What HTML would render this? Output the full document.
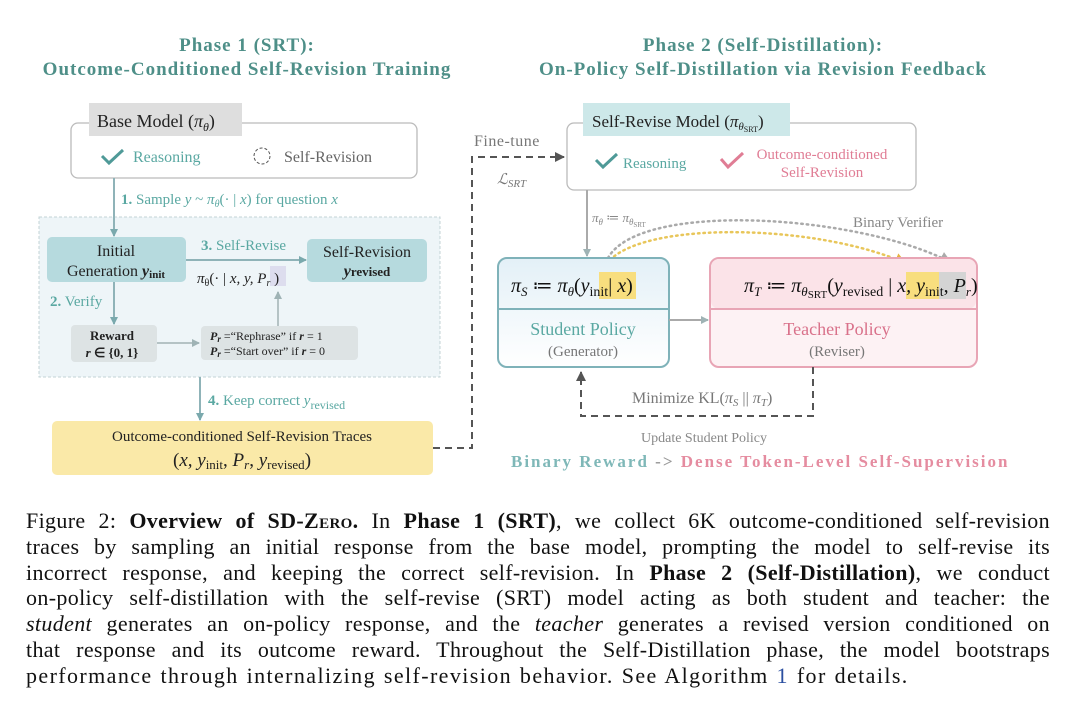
<!DOCTYPE html>
<html><head><meta charset="utf-8"><style>
html,body{margin:0;padding:0;background:#fff;width:1080px;height:719px;overflow:hidden}
svg{position:absolute;left:0;top:0}
svg text{font-family:"Liberation Serif",serif}
.cap{position:absolute;left:26px;top:508px;width:1024px;font-family:"Liberation Serif",serif;font-size:22px;line-height:25.8px;color:#111;letter-spacing:0.35px}
.cap div{text-align:justify;text-align-last:justify;white-space:nowrap}
.cap div.l{text-align-last:left;letter-spacing:1.4px;word-spacing:1px}
.sc{font-variant:small-caps}
</style></head><body>
<svg width="1080" height="719" viewBox="0 0 1080 719">
<defs>
<marker id="ag" markerWidth="8" markerHeight="8" refX="7" refY="4" orient="auto" markerUnits="userSpaceOnUse"><path d="M0,0 L8,4 L0,8z" fill="#9fb3b5"/></marker>
<marker id="at" markerWidth="8" markerHeight="8" refX="7" refY="4" orient="auto" markerUnits="userSpaceOnUse"><path d="M0,0 L8,4 L0,8z" fill="#7aa9ad"/></marker>
<marker id="ad" markerWidth="10" markerHeight="10" refX="9" refY="5" orient="auto" markerUnits="userSpaceOnUse"><path d="M0,0 L10,5 L0,10z" fill="#555"/></marker>
<marker id="ay" markerWidth="12" markerHeight="12" refX="10" refY="6" orient="auto" markerUnits="userSpaceOnUse"><path d="M0,0 L12,6 L0,12z" fill="#e8b33f"/></marker>
<marker id="agr" markerWidth="12" markerHeight="12" refX="10" refY="6" orient="auto" markerUnits="userSpaceOnUse"><path d="M0,0 L12,6 L0,12z" fill="#aaa"/></marker>
<linearGradient id="sg" x1="0" y1="0" x2="0" y2="1"><stop offset="0" stop-color="#e3f0f7"/><stop offset="1" stop-color="#fff"/></linearGradient>
</defs>
<g fill="#4e8f88" font-weight="bold" font-size="19" letter-spacing="1" text-anchor="middle">
<text x="247" y="51">Phase 1 (SRT):</text>
<text x="247" y="75">Outcome-Conditioned Self-Revision Training</text>
<text x="763" y="51">Phase 2 (Self-Distillation):</text>
<text x="763" y="75">On-Policy Self-Distillation via Revision Feedback</text>
</g>
<rect x="39" y="217" width="401" height="160" fill="#eef5f8" stroke="#c3d3d6" stroke-dasharray="3,2"/>
<rect x="71" y="123" width="346" height="55" rx="7" fill="#fff" stroke="#bbb" stroke-width="1.3"/>
<rect x="89" y="103" width="153" height="33" fill="#dedede"/>
<text x="97" y="127" font-size="18" fill="#222">Base Model (<tspan font-style="italic">π</tspan><tspan font-size="12" font-style="italic" dy="4">θ</tspan><tspan dy="-4">)</tspan></text>
<path d="M102,156 l7,7 l14,-13" fill="none" stroke="#4f9a98" stroke-width="3"/>
<text x="133" y="162" font-size="16" fill="#5aa8a2">Reasoning</text>
<circle cx="262" cy="156" r="8" fill="none" stroke="#555" stroke-dasharray="3,2"/>
<text x="284" y="162" font-size="16" fill="#666">Self-Revision</text>
<line x1="114" y1="178" x2="114" y2="236" stroke="#8fb3b8" stroke-width="2" marker-end="url(#at)"/>
<text x="121" y="204" font-size="15" fill="#5aa8a2"><tspan font-weight="bold">1.</tspan> Sample <tspan font-style="italic">y</tspan> ~ <tspan font-style="italic">π<tspan font-size="10" dy="3">θ</tspan></tspan><tspan dy="-3">(· | </tspan><tspan font-style="italic">x</tspan>) for question <tspan font-style="italic">x</tspan></text>
<rect x="47" y="237" width="139" height="45" rx="5" fill="#b6dade"/>
<text x="116" y="256" font-size="16" text-anchor="middle" fill="#222">Initial</text>
<text x="116" y="276" font-size="16" text-anchor="middle" fill="#222">Generation <tspan font-weight="bold" font-style="italic">y</tspan><tspan font-weight="bold" font-size="11" dy="2">init</tspan></text>
<rect x="307" y="239" width="120" height="43" rx="5" fill="#b6dade"/>
<text x="367" y="257" font-size="16" text-anchor="middle" fill="#222">Self-Revision</text>
<text x="367" y="276" font-size="13" text-anchor="middle" font-weight="bold" fill="#222"><tspan font-style="italic" font-size="16">y</tspan>revised</text>
<line x1="186" y1="260" x2="306" y2="260" stroke="#8fb3b8" stroke-width="2" marker-end="url(#at)"/>
<text x="201" y="250" font-size="15" fill="#5aa8a2"><tspan font-weight="bold">3.</tspan> Self-Revise</text>
<rect x="270" y="266" width="16" height="20" fill="#dde"/>
<text x="197" y="283" font-size="15" fill="#222"><tspan font-style="italic">π</tspan><tspan font-size="10" dy="3">θ</tspan><tspan dy="-3">(· | </tspan><tspan font-style="italic">x, y, P</tspan><tspan font-size="10" font-style="italic" dy="3">r</tspan><tspan dy="-3"> )</tspan></text>
<line x1="114" y1="282" x2="114" y2="324" stroke="#8fb3b8" stroke-width="2" marker-end="url(#at)"/>
<text x="50" y="306" font-size="15" fill="#5aa8a2"><tspan font-weight="bold">2.</tspan> Verify</text>
<rect x="71" y="325" width="86" height="37" rx="4" fill="#dde3e4"/>
<text x="112" y="340" font-size="13" text-anchor="middle" font-weight="bold" fill="#222">Reward</text>
<text x="112" y="357" font-size="13" text-anchor="middle" font-weight="bold" fill="#222"><tspan font-style="italic">r</tspan> ∈ {0, 1}</text>
<line x1="157" y1="343" x2="199" y2="343" stroke="#b5c3c5" stroke-width="2" marker-end="url(#ag)"/>
<rect x="201" y="326" width="157" height="34" rx="4" fill="#dde3e4"/>
<text x="210" y="340" font-size="12" fill="#222"><tspan font-weight="bold" font-style="italic">P<tspan font-size="9" dy="2">r</tspan></tspan><tspan dy="-2"> =“Rephrase” if </tspan><tspan font-weight="bold" font-style="italic">r</tspan> = 1</text>
<text x="210" y="355" font-size="12" fill="#222"><tspan font-weight="bold" font-style="italic">P<tspan font-size="9" dy="2">r</tspan></tspan><tspan dy="-2"> =“Start over” if </tspan><tspan font-weight="bold" font-style="italic">r</tspan> = 0</text>
<line x1="278" y1="326" x2="278" y2="292" stroke="#b5c3c5" stroke-width="2" marker-end="url(#ag)"/>
<line x1="200" y1="377" x2="200" y2="420" stroke="#8fb3b8" stroke-width="2" marker-end="url(#at)"/>
<text x="208" y="405" font-size="15" fill="#5aa8a2"><tspan font-weight="bold">4.</tspan> Keep correct <tspan font-style="italic">y</tspan><tspan font-size="12" dy="4">revised</tspan></text>
<rect x="52" y="421" width="381" height="54" rx="5" fill="#fae9a8"/>
<text x="242" y="441" font-size="15" text-anchor="middle" fill="#222">Outcome-conditioned Self-Revision Traces</text>
<text x="242" y="466" font-size="19" text-anchor="middle" fill="#222">(<tspan font-style="italic">x, y</tspan><tspan font-size="13" dy="3">init</tspan><tspan dy="-3">, </tspan><tspan font-style="italic">P</tspan><tspan font-size="13" font-style="italic" dy="3">r</tspan><tspan dy="-3">, </tspan><tspan font-style="italic">y</tspan><tspan font-size="13" dy="3">revised</tspan><tspan dy="-3">)</tspan></text>
<path d="M433,448 H472 V157 H564" fill="none" stroke="#555" stroke-width="2" stroke-dasharray="7,5" marker-end="url(#ad)"/>
<text x="474" y="146" font-size="16" fill="#777" letter-spacing="0.5">Fine-tune</text>
<text x="497" y="184" font-size="15" fill="#777" font-style="italic">ℒ<tspan font-size="11" dy="3">SRT</tspan></text>
<rect x="567" y="123" width="349" height="67" rx="7" fill="#fff" stroke="#bbb" stroke-width="1.3"/>
<rect x="583" y="103" width="207" height="33" fill="#cde8e9"/>
<text x="592" y="127" font-size="17" fill="#222">Self-Revise Model (<tspan font-style="italic">π</tspan><tspan font-size="11" font-style="italic" dy="3">θ</tspan><tspan font-size="8" dy="2">SRT</tspan><tspan dy="-5">)</tspan></text>
<path d="M596,160 l7,7 l14,-13" fill="none" stroke="#4f9a98" stroke-width="3"/>
<text x="623" y="168" font-size="15" fill="#5aa8a2">Reasoning</text>
<path d="M721,159 l7,8 l15,-14" fill="none" stroke="#e07d95" stroke-width="3"/>
<text x="822" y="159" font-size="15" text-anchor="middle" fill="#e07d95">Outcome-conditioned</text>
<text x="822" y="177" font-size="15" text-anchor="middle" fill="#e07d95">Self-Revision</text>
<line x1="587" y1="190" x2="587" y2="256" stroke="#aaa" stroke-width="2" marker-end="url(#ag)"/>
<text x="592" y="222" font-size="13" fill="#888" font-style="italic">π<tspan font-size="9" dy="3">θ</tspan><tspan dy="-3" font-style="normal"> ≔ </tspan>π<tspan font-size="9" dy="3">θ</tspan><tspan font-size="7" dy="2" font-style="normal">SRT</tspan></text>
<text x="853" y="227" font-size="15" fill="#888">Binary Verifier</text>
<path d="M608,258 C640,200 860,215 950,262" fill="none" stroke="#aaa" stroke-width="2.5" stroke-dasharray="1.5,4" stroke-linecap="round" marker-end="url(#agr)"/>
<path d="M610,260 C650,220 820,225 905,263" fill="none" stroke="#e8c65a" stroke-width="2.5" stroke-dasharray="1.5,4" stroke-linecap="round" marker-end="url(#ay)"/>
<rect x="498" y="258" width="171" height="109" rx="9" fill="url(#sg)" stroke="#7fb2b9" stroke-width="2"/>
<line x1="498" y1="309" x2="669" y2="309" stroke="#7fb2b9" stroke-width="2"/>
<rect x="599" y="272" width="37" height="27" fill="#f8de7e"/>
<text x="511" y="292" font-size="20" fill="#111"><tspan font-style="italic">π</tspan><tspan font-size="13" font-style="italic" dy="4">S</tspan><tspan dy="-4"> ≔ </tspan><tspan font-style="italic">π</tspan><tspan font-size="13" font-style="italic" dy="4">θ</tspan><tspan dy="-4">(</tspan><tspan font-style="italic">y</tspan><tspan font-size="14" dy="4">init</tspan><tspan dy="-4">| </tspan><tspan font-style="italic">x</tspan>)</text>
<text x="583" y="335" font-size="18" text-anchor="middle" fill="#5aa8a2">Student Policy</text>
<text x="583" y="356" font-size="15" text-anchor="middle" fill="#777">(Generator)</text>
<line x1="669" y1="320" x2="708" y2="320" stroke="#aaa" stroke-width="2" marker-end="url(#ag)"/>
<rect x="710" y="258" width="267" height="109" rx="9" fill="#fdf2f4" stroke="#e8a5b5" stroke-width="2"/>
<rect x="711" y="259" width="265" height="50" rx="8" fill="#fbe3e8"/>
<line x1="710" y1="309" x2="977" y2="309" stroke="#e8a5b5" stroke-width="2"/>
<rect x="906" y="272" width="33" height="27" fill="#f8de7e"/>
<rect x="939" y="272" width="27" height="27" fill="#d4d4d4"/>
<text x="744" y="292" font-size="20" fill="#111"><tspan font-style="italic">π</tspan><tspan font-size="13" font-style="italic" dy="4">T</tspan><tspan dy="-4"> ≔ </tspan><tspan font-style="italic">π</tspan><tspan font-size="13" font-style="italic" dy="4">θ</tspan><tspan font-size="11" dy="2">SRT</tspan><tspan dy="-6">(</tspan><tspan font-style="italic">y</tspan><tspan font-size="14" dy="4">revised</tspan><tspan dy="-4"> | </tspan><tspan font-style="italic">x, y</tspan><tspan font-size="14" dy="4">init</tspan><tspan dy="-4">, </tspan><tspan font-style="italic">P</tspan><tspan font-size="13" font-style="italic" dy="4">r</tspan><tspan dy="-4">)</tspan></text>
<text x="837" y="335" font-size="18" text-anchor="middle" fill="#d9718a">Teacher Policy</text>
<text x="837" y="356" font-size="15" text-anchor="middle" fill="#777">(Reviser)</text>
<path d="M813,367 V416 H581 V372" fill="none" stroke="#555" stroke-width="2" stroke-dasharray="7,5" marker-end="url(#ad)"/>
<text x="632" y="403" font-size="16" fill="#777">Minimize KL(<tspan font-style="italic">π</tspan><tspan font-size="11" font-style="italic" dy="3">S</tspan><tspan dy="-3"> || </tspan><tspan font-style="italic">π</tspan><tspan font-size="11" font-style="italic" dy="3">T</tspan><tspan dy="-3">)</tspan></text>
<text x="641" y="442" font-size="14" fill="#888">Update Student Policy</text>
<text x="511" y="467" font-size="17" font-weight="bold" letter-spacing="2" fill="#7fb8b8">Binary Reward <tspan fill="#999">-&gt;</tspan> <tspan fill="#e58ca0">Dense Token-Level Self-Supervision</tspan></text>
</svg>
<div class="cap">
<div>Figure 2: <b>Overview of SD-Z<span class="sc">ero</span>.</b> In <b>Phase 1 (SRT)</b>, we collect 6K outcome-conditioned self-revision</div>
<div>traces by sampling an initial response from the base model, prompting the model to self-revise its</div>
<div>incorrect response, and keeping the correct self-revision. In <b>Phase 2 (Self-Distillation)</b>, we conduct</div>
<div>on-policy self-distillation with the self-revise (SRT) model acting as both student and teacher: the</div>
<div><i>student</i> generates an on-policy response, and the <i>teacher</i> generates a revised version conditioned on</div>
<div>that response and its outcome reward. Throughout the Self-Distillation phase, the model bootstraps</div>
<div class="l">performance through internalizing self-revision behavior. See Algorithm <span style="color:#2b4fa0">1</span> for details.</div>
</div>
</body></html>
